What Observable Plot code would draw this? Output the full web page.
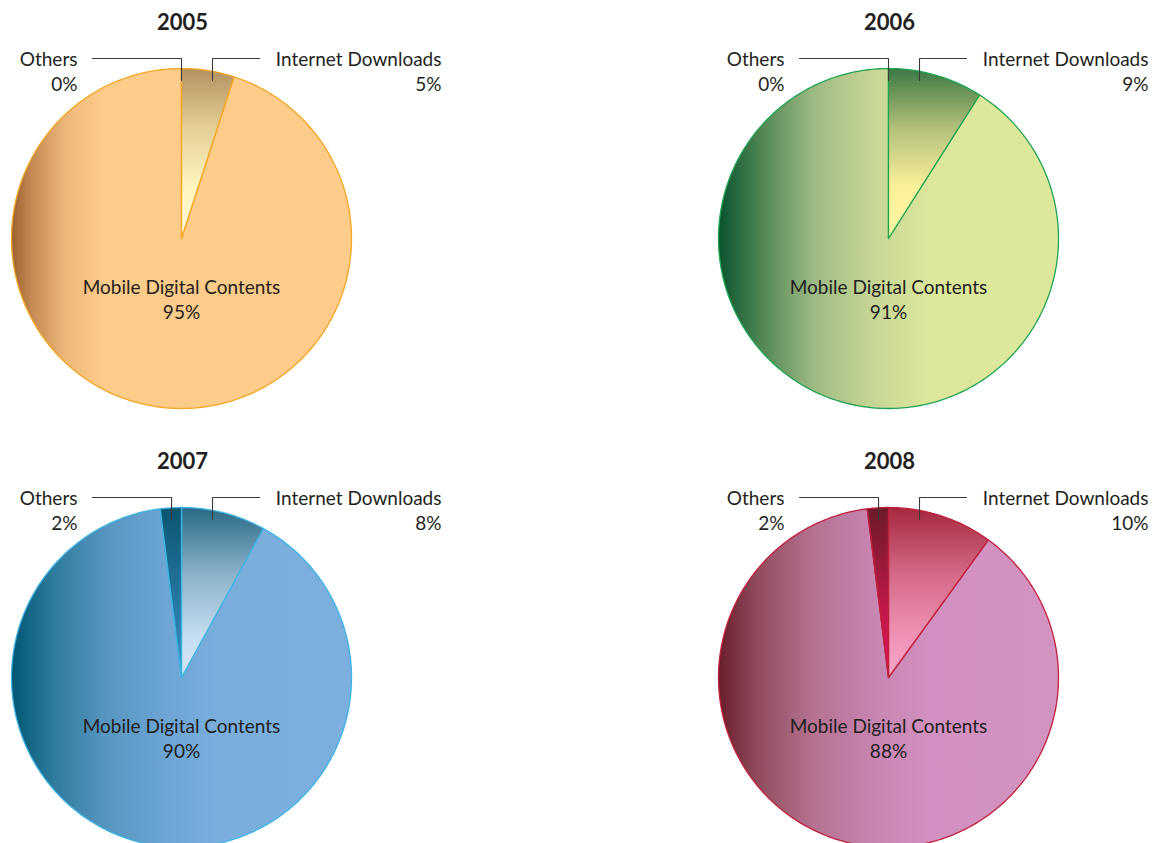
<!DOCTYPE html>
<html><head><meta charset="utf-8">
<script src="https://cdn.jsdelivr.net/npm/d3@7"></script>
<script src="https://cdn.jsdelivr.net/npm/@observablehq/plot@0.6"></script>
<style>html,body{margin:0;padding:0;background:#fff;overflow:hidden}</style>
</head><body><div id="chart"></div>
<script>
// ---- data ----
const years = ["2005", "2006", "2007", "2008"];
const categories = ["Internet Downloads", "Mobile Digital Contents", "Others"];
const internet = [5, 9, 8, 10];
const mobile = [95, 91, 90, 88];
const others = [0, 0, 2, 2];

// ---- styles ----
const strokes = ["#F4A521", "#1FA552", "#3DB4E4", "#C0203C"];
const mainStops = [
  [[0, "#9C6131"], [0.06, "#C48A52"], [0.16, "#EDB77A"], [0.27, "#FDCB8A"], [1, "#FDCB8A"]],
  [[0, "#08532E"], [0.12, "#4D8452"], [0.28, "#9DBA83"], [0.45, "#C6D596"], [0.62, "#DCE79C"], [1, "#DEE89D"]],
  [[0, "#005672"], [0.12, "#2D7B9C"], [0.28, "#5796C0"], [0.47, "#6FA6D6"], [0.62, "#7AAEDD"], [1, "#7BAFDE"]],
  [[0, "#6A1D2B"], [0.12, "#924E60"], [0.28, "#B57291"], [0.47, "#C886B3"], [0.62, "#D190BF"], [1, "#D393C1"]]
];
const netStops = [
  [[0, "#B49160"], [0.35, "#E4CF96"], [0.7, "#FFF5C0"], [1, "#FFFBD4"]],
  [[0, "#3C7843"], [0.35, "#B2C07A"], [0.7, "#FCF09A"], [1, "#FFF7A2"]],
  [[0, "#296A86"], [0.4, "#8CB4CB"], [0.75, "#C4DDF0"], [1, "#D4E7F6"]],
  [[0, "#A6283E"], [0.4, "#D56A88"], [0.75, "#EF92B5"], [1, "#F7A8C9"]]
];
const othStops = [
  [[0, "#0A5570"], [1, "#3E92CC"]],
  [[0, "#0A5570"], [1, "#3E92CC"]],
  [[0, "#0A5570"], [1, "#3E92CC"]],
  [[0, "#6C1A28"], [0.6, "#C0184A"], [1, "#E40F5A"]]
];

// ---- layout ----
const W = 1156, H = 843;
const colX = [181, 888], rowY = [238, 677], R = 170;
const center = (i) => [colX[i % 2], rowY[Math.floor(i / 2)]];
const pt = (c, r, deg) => [c[0] + r * Math.sin(deg * Math.PI / 180), c[1] - r * Math.cos(deg * Math.PI / 180)];

// ---- build slice polygons from the values ----
const slicePts = [];
years.forEach((y, i) => {
  const c = center(i);
  const a1 = internet[i] * 3.6;
  const a2 = 360 - others[i] * 3.6;
  const slices = [
    {key: "main", cat: categories[1], from: a1, to: a2},
    {key: "net", cat: categories[0], from: 0, to: a1},
    {key: "oth", cat: categories[2], from: a2, to: 360}
  ];
  slices.forEach((s, k) => {
    if (s.to - s.from <= 0) return;
    const id = `${s.key}-${y}`;
    const fill = `url(#${id})`;
    const push = (p) => slicePts.push({x: p[0], y: p[1], z: id, fill, stroke: strokes[i], order: k});
    push(c);
    const n = Math.max(2, Math.ceil((s.to - s.from) / 1));
    for (let j = 0; j <= n; j++) push(pt(c, R, s.from + (s.to - s.from) * j / n));
  });
});

// ---- leader lines ----
const leaders = [];
years.forEach((y, i) => {
  const c = center(i);
  const yTop = c[1] - 180, yEnd = c[1] - 158;
  const midO = 360 - others[i] * 1.8;
  const vxO = c[0] + 158 * Math.tan(midO * Math.PI / 180);
  [[c[0] - 89, yTop], [vxO, yTop], [vxO, yEnd]].forEach(p => leaders.push({x: p[0], y: p[1], z: "o" + y}));
  const vxN = c[0] + 31;
  [[vxN, yEnd], [vxN, yTop], [c[0] + 78, yTop]].forEach(p => leaders.push({x: p[0], y: p[1], z: "n" + y}));
});

// ---- texts ----
const titles = years.map((y, i) => ({x: center(i)[0] + 1, y: center(i)[1] - 216, text: y}));
const othLabels = years.map((y, i) => ({x: center(i)[0] - 104, y: center(i)[1] - 168.5, text: `${categories[2]}\n${others[i]}%`}));
const netLabels = years.map((y, i) => ({x: center(i)[0] + 260, y: center(i)[1] - 168.5, text: `${categories[0]}\n${internet[i]}%`}));
const mainLabels = years.map((y, i) => ({x: center(i)[0], y: center(i)[1] + 59.5, text: `${categories[1]}\n${mobile[i]}%`}));

const font = "Lato, 'Open Sans', sans-serif";
const chart = Plot.plot({
  width: W, height: H,
  margin: 0,
  x: {domain: [0, W], range: [0, W], axis: null},
  y: {domain: [0, H], range: [0, H], axis: null},
  color: {type: "identity"},
  style: {fontFamily: font, background: "#fff"},
  marks: [
    Plot.line(slicePts.filter(d => d.order === 0), {x: "x", y: "y", z: "z", fill: "fill", stroke: "stroke", strokeWidth: 1.3, curve: "linear-closed", strokeLinejoin: "round"}),
    Plot.line(slicePts.filter(d => d.order > 0), {x: "x", y: "y", z: "z", fill: "fill", stroke: "stroke", strokeWidth: 1.3, curve: "linear-closed", strokeLinejoin: "round"}),
    Plot.line(leaders, {x: "x", y: "y", z: "z", stroke: "#3a3a3a", strokeWidth: 1.1}),
    Plot.text(titles, {x: "x", y: "y", text: "text", fontSize: 22, fontWeight: "bold", fill: "#231F20"}),
    Plot.text(othLabels, {x: "x", y: "y", text: "text", fontSize: 19, textAnchor: "end", lineHeight: 1.32, fill: "#231F20"}),
    Plot.text(netLabels, {x: "x", y: "y", text: "text", fontSize: 19, textAnchor: "end", lineHeight: 1.32, fill: "#231F20"}),
    Plot.text(mainLabels, {x: "x", y: "y", text: "text", fontSize: 19, lineHeight: 1.32, fill: "#231F20"})
  ]
});

// gradient definitions
const grad = (id, stops, vertical) =>
  `<linearGradient id="${id}" x1="0" y1="0" x2="${vertical ? 0 : 1}" y2="${vertical ? 1 : 0}">` +
  stops.map(s => `<stop offset="${s[0]}" stop-color="${s[1]}"/>`).join("") + `</linearGradient>`;
let defs = "";
years.forEach((y, i) => {
  defs += grad(`main-${y}`, mainStops[i], false);
  defs += grad(`net-${y}`, netStops[i], true);
  defs += grad(`oth-${y}`, othStops[i], true);
});
d3.select(chart).insert("defs", ":first-child").html(defs);
document.getElementById("chart").appendChild(chart);
</script></body></html>
